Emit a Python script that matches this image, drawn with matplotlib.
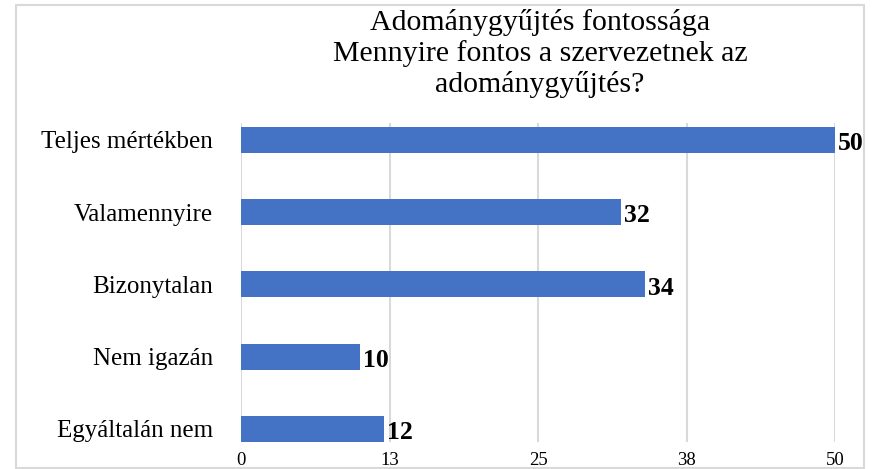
import matplotlib.pyplot as plt
import matplotlib.patches as mpatches

plt.rcParams['font.family'] = ['Liberation Serif', 'DejaVu Serif']

# Adatok
kategoriak = ["Teljes mértékben", "Valamennyire", "Bizonytalan", "Nem igazán", "Egyáltalán nem"]
ertekek = [50, 32, 34, 10, 12]
racs_pozicio = [0, 12.5, 25, 37.5, 50]
racs_felirat = ["0", "13", "25", "38", "50"]

fig = plt.figure(figsize=(8.73, 4.69), dpi=100)
ax = fig.add_axes([241 / 873, 1 - 442 / 469, (835 - 241) / 873, (442 - 123) / 469])

y = list(range(len(kategoriak)))
ax.barh(y, ertekek, height=0.36, color="#4472C4", zorder=3)

for yi, v in zip(y, ertekek):
    ax.text(v + 0.25, yi + 0.05, str(v), va="center", ha="left",
            fontsize=18.5, fontweight="bold", color="black")

ax.set_xlim(0, 50)
ax.set_ylim(4.18, -0.234)
ax.set_yticks(y)
ax.set_yticklabels(kategoriak, fontsize=18)
ax.set_xticks(racs_pozicio)
ax.set_xticklabels(racs_felirat, fontsize=13.5)
ax.tick_params(length=0)
ax.tick_params(axis="y", pad=20)
ax.tick_params(axis="x", pad=7)
ax.grid(axis="x", color="#d9d9d9", linewidth=1.5, zorder=0)
for s in ax.spines.values():
    s.set_visible(False)

fig.text(540 / 873, 1 - 9 / 469,
         "Adománygyűjtés fontossága\nMennyire fontos a szervezetnek az\nadománygyűjtés?",
         ha="center", va="top", fontsize=21.5, linespacing=1.18)

# Keret
fig.patches.append(mpatches.Rectangle((16 / 873, 1 - 468 / 469), (864 - 16) / 873, (468 - 5) / 469,
                                      transform=fig.transFigure, fill=False,
                                      edgecolor="#d9d9d9", linewidth=1.5))

fig.savefig("out.png", dpi=100)
